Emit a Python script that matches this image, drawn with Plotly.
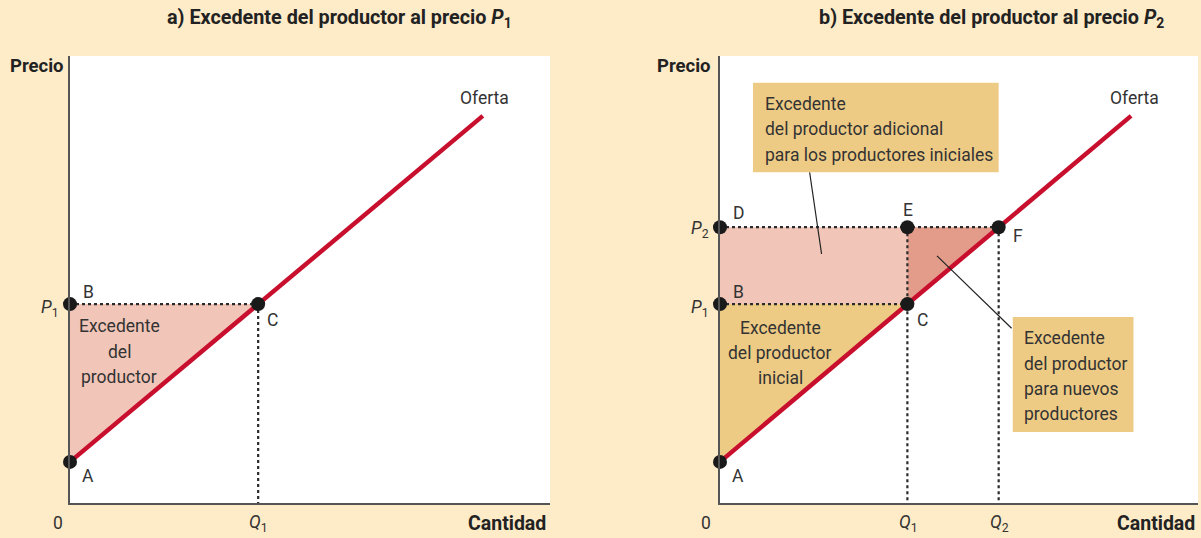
import plotly.graph_objects as go

# ---- data (schematic units) ----
supply_q = [0.0, 8.6]
supply_p = [0.92, 8.66]
P_A = 0.92
Q1, P1 = 3.92, 4.45
Q2, P2 = 5.83, 6.17

W, H = 1201, 538
BG = "#FEEBC8"
RED = "#C8102E"
DOT = "#2b2b2b"
TXT = "#333333"
FONT = "Roboto"

# pixel geometry of the two plot areas
AX = {"a": (70, 550), "b": (720, 1198)}
YT, YB = 56, 503

def paper(xp, yp):
    return xp / W, 1 - yp / H

fig = go.Figure()

def add_panel(xa, ya, panel):
    # fills
    if panel == "a":
        fig.add_trace(go.Scatter(x=[0, 0, Q1, 0], y=[P_A, P1, P1, P_A], fill="toself",
                                 fillcolor="#F1C6B8", line=dict(width=0), mode="lines",
                                 xaxis=xa, yaxis=ya, hoverinfo="skip"))
    else:
        fig.add_trace(go.Scatter(x=[0, 0, Q1, 0], y=[P_A, P1, P1, P_A], fill="toself",
                                 fillcolor="#EECB85", line=dict(width=0), mode="lines",
                                 xaxis=xa, yaxis=ya, hoverinfo="skip"))
        fig.add_trace(go.Scatter(x=[0, 0, Q1, Q1, 0], y=[P1, P2, P2, P1, P1], fill="toself",
                                 fillcolor="#F1C6B8", line=dict(width=0), mode="lines",
                                 xaxis=xa, yaxis=ya, hoverinfo="skip"))
        fig.add_trace(go.Scatter(x=[Q1, Q1, Q2, Q1], y=[P1, P2, P2, P1], fill="toself",
                                 fillcolor="#E39C8A", line=dict(width=0), mode="lines",
                                 xaxis=xa, yaxis=ya, hoverinfo="skip"))
    # dotted guides
    dl = dict(color=DOT, width=2.2, dash="dot")
    if panel == "a":
        segs = [([0, Q1], [P1, P1]), ([Q1, Q1], [P1, 0])]
    else:
        segs = [([0, Q2], [P2, P2]), ([0, Q1], [P1, P1]), ([Q1, Q1], [P2, 0]), ([Q2, Q2], [P2, 0])]
    for xs, ys in segs:
        fig.add_trace(go.Scatter(x=xs, y=ys, mode="lines", line=dl, xaxis=xa, yaxis=ya,
                                 hoverinfo="skip"))
    # supply curve
    fig.add_trace(go.Scatter(x=supply_q, y=supply_p, mode="lines",
                             line=dict(color=RED, width=4.5), xaxis=xa, yaxis=ya,
                             hoverinfo="skip"))
    # points
    if panel == "a":
        px_, py_ = [0, 0, Q1], [P_A, P1, P1]
    else:
        px_, py_ = [0, 0, Q1, 0, Q1, Q2], [P_A, P1, P1, P2, P2, P2]
    fig.add_trace(go.Scatter(x=px_, y=py_, mode="markers", cliponaxis=False,
                             marker=dict(color="#1a1a1a", size=14), xaxis=xa, yaxis=ya,
                             hoverinfo="skip"))

add_panel("x", "y", "a")
add_panel("x2", "y2", "b")

# leader lines (panel b)
for xs, ys in [([1.875, 2.125], [7.40, 5.57]), ([4.54, 6.1], [5.53, 3.91])]:
    fig.add_trace(go.Scatter(x=xs, y=ys, mode="lines", line=dict(color="#222", width=1.2),
                             xaxis="x2", yaxis="y2", hoverinfo="skip"))

shapes = [
    dict(type="rect", xref="x2", yref="y2", x0=0.69, x1=5.83, y0=7.40, y1=9.40,
         fillcolor="#EECB85", line=dict(width=0), layer="above"),
    dict(type="rect", xref="x2", yref="y2", x0=6.125, x1=8.65, y0=1.59, y1=4.16,
         fillcolor="#EECB85", line=dict(width=0), layer="above"),
]

ax_common = dict(range=[0, 10], showgrid=False, zeroline=False, showticklabels=False,
                 ticks="", showline=True, linecolor="#555555", linewidth=2, mirror=False,
                 fixedrange=True)
ydom = [1 - YB / H, 1 - YT / H]

fig.update_layout(
    width=W, height=H, margin=dict(l=0, r=0, t=0, b=0),
    paper_bgcolor=BG, plot_bgcolor="white", showlegend=False,
    xaxis=dict(domain=[AX["a"][0] / W, AX["a"][1] / W], anchor="y", **ax_common),
    yaxis=dict(domain=ydom, anchor="x", **ax_common),
    xaxis2=dict(domain=[AX["b"][0] / W, AX["b"][1] / W], anchor="y2", **ax_common),
    yaxis2=dict(domain=ydom, anchor="x2", **ax_common),
    shapes=shapes,
    font=dict(family=FONT, color=TXT, size=17),
)

REG = 17.5
anns = []
def txt(xp, yp, s, size=REG, bold=False, xanchor="center", color=TXT):
    x, y = paper(xp, yp)
    if bold:
        s = "<b>" + s + "</b>"
    anns.append(dict(x=x, y=y, xref="paper", yref="paper", text=s, showarrow=False,
                     xanchor=xanchor, yanchor="middle", font=dict(size=size, color=color,
                     family=FONT)))

# titles
txt(339, 19, "a) Excedente del productor al precio <i>P</i><sub>1</sub>", size=19.8, bold=True, color="#222")
txt(991, 19, "b) Excedente del productor al precio <i>P</i><sub>2</sub>", size=19.8, bold=True, color="#222")
txt(37, 66, "Precio", size=18.5, bold=True, color="#222")
txt(684, 66, "Precio", size=18.5, bold=True, color="#222")
txt(548, 523, "Cantidad", size=19.5, bold=True, xanchor="right", color="#222")
txt(1197, 523, "Cantidad", size=19.5, bold=True, xanchor="right", color="#222")
# zeros
txt(58, 523, "0")
txt(706, 523, "0")
# tick-like labels
txt(258, 523, "<i>Q</i><sub>1</sub>")
txt(908, 523, "<i>Q</i><sub>1</sub>")
txt(1000, 523, "<i>Q</i><sub>2</sub>")
txt(50, 308, "<i>P</i><sub>1</sub>")
txt(700, 308, "<i>P</i><sub>1</sub>")
txt(700, 230, "<i>P</i><sub>2</sub>")
# Oferta
txt(484, 98, "Oferta")
txt(1134, 98, "Oferta")
# point letters
for xp, yp, s in [(88, 476, "A"), (88, 292, "B"), (272, 320, "C"),
                  (738, 476, "A"), (738, 292, "B"), (922, 320, "C"),
                  (738, 213, "D"), (908, 210, "E"), (1018, 236, "F")]:
    txt(xp, yp, s)
# area labels
for yp, s in [(326, "Excedente"), (352, "del"), (377, "productor")]:
    txt(119, yp, s)
for yp, s in [(328, "Excedente"), (353, "del productor"), (378, "inicial")]:
    txt(780, yp, s)
for yp, s in [(104, "Excedente"), (129, "del productor adicional"), (155, "para los productores iniciales")]:
    txt(763, yp, s, xanchor="left")
for yp, s in [(338, "Excedente"), (364, "del productor"), (389, "para nuevos"), (414, "productores")]:
    txt(1022, yp, s, xanchor="left")

fig.update_layout(annotations=anns)
fig.write_html("out.html", config={"displayModeBar": False},
               post_script="document.body.style.margin='0px';document.body.style.overflow='hidden';")
